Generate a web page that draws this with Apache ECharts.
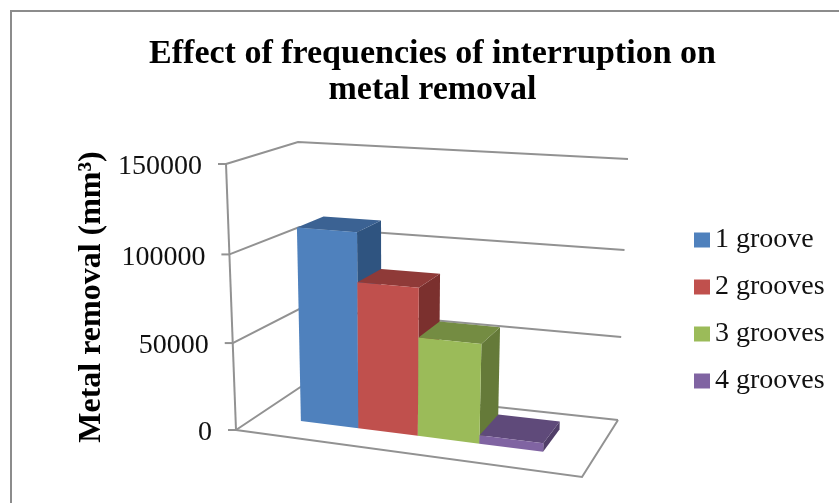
<!DOCTYPE html>
<html>
<head>
<meta charset="utf-8">
<style>
  html, body { margin: 0; padding: 0; background: #fff; }
  #chart { width: 839px; height: 503px; }
</style>
<script src="https://cdn.jsdelivr.net/npm/echarts@6/dist/echarts.min.js"></script>
</head>
<body>
<div id="chart"></div>
<script>
var categories = ['1 groove', '2 grooves', '3 grooves', '4 grooves']
var values = [112300, 84400, 56500, 4800]
var yTicks = [0, 50000, 100000, 150000]
var frontColors = ['#4f81bd', '#c0504d', '#9bbb59', '#8064a2']
var topColors = ['#3b6293', '#8f3a38', '#748c42', '#5f4a7a']
var sideColors = ['#2f5480', '#7b302e', '#657a39', '#503e68']

var serif = '"Liberation Serif", serif'
var lineColor = '#929292'

// corners of the 3d box on screen: x left/right, z front/back, bottom/top
var box = {
  flb: [236, 430], flt: [226, 164],
  blb: [302, 386], blt: [298, 142],
  frb: [582, 477], frt: [596, 190],
  brb: [618, 420], brt: [628, 159]
}
var barX = { center: 0.5, share: 0.7214 }
var barZ = [0.33, 0.735]

function mix(a, b, t) {
  return [a[0] + (b[0] - a[0]) * t, a[1] + (b[1] - a[1]) * t]
}

function warp(t, c) {
  return t / (c + (1 - c) * t)
}

// u, v, z all 0..1
function project(u, v, z) {
  var x = warp(u, 1.1)
  var y = warp(v, 1.03 + 0.04 * z)
  var fb = mix(mix(box.flb, box.frb, x), mix(box.blb, box.brb, x), z)
  var ft = mix(mix(box.flt, box.frt, x), mix(box.blt, box.brt, x), z)
  return mix(fb, ft, y)
}

function face(points, color) {
  return { type: 'polygon', shape: { points: points }, style: { fill: color }}
}

function renderBar(params, api) {
  var sys = params.coordSys
  var i = api.value(0)
  var pos = api.coord([i, api.value(1)])
  var band = api.size([1, 0])[0] / sys.width
  var t = (pos[0] - sys.x) / sys.width
  var mid = barX.center + (t - 0.5) * barX.share
  var half = band * barX.share / 2
  var u0 = mid - half
  var u1 = mid + half
  var v = (sys.y + sys.height - pos[1]) / sys.height
  var z0 = barZ[0]
  var z1 = barZ[1]
  return {
    type: 'group',
    children: [
      face([project(u1, 0, z0), project(u1, 0, z1), project(u1, v, z1), project(u1, v, z0)], sideColors[i]),
      face([project(u0, v, z0), project(u1, v, z0), project(u1, v, z1), project(u0, v, z1)], topColors[i]),
      face([project(u0, 0, z0), project(u1, 0, z0), project(u1, v, z0), project(u0, v, z0)], frontColors[i])
    ]
  }
}

function renderWall(params, api) {
  var sys = params.coordSys
  var tick = api.value(1)
  var py = api.coord([0, tick])[1]
  var v = (sys.y + sys.height - py) / sys.height
  var a = project(0, v, 0)
  var lineStyle = { stroke: lineColor, lineWidth: 2, fill: null }
  var children = [
    { type: 'polyline', shape: { points: [a, project(0, v, 1), project(1, v, 1)] }, style: lineStyle },
    { type: 'line', shape: { x1: a[0] - 8, y1: a[1], x2: a[0], y2: a[1] }, style: lineStyle },
    {
      type: 'text',
      x: a[0] - 24,
      y: a[1] + 3,
      style: {
        text: String(tick),
        align: 'right',
        verticalAlign: 'middle',
        fontFamily: serif,
        fontSize: 28,
        fill: '#111'
      }
    }
  ]
  if (tick === 0) {
    children.push({ type: 'polyline', shape: { points: [a, project(1, 0, 0), project(1, 0, 1)] }, style: lineStyle })
    children.push({ type: 'polyline', shape: { points: [a, project(0, 1, 0)] }, style: lineStyle })
  }
  return { type: 'group', children: children }
}

var series = [{
  type: 'custom',
  name: 'walls',
  renderItem: renderWall,
  data: yTicks.map(function(t) { return [0, t] }),
  encode: { x: 0, y: 1 },
  silent: true,
  z: 1
}].concat(categories.map(function(name, i) {
  return {
    type: 'custom',
    name: name,
    renderItem: renderBar,
    data: [[i, values[i]]],
    encode: { x: 0, y: 1 },
    itemStyle: { color: frontColors[i] },
    silent: true,
    z: 2 + i
  }
}))

var chart = echarts.init(document.getElementById('chart'), null, { renderer: 'canvas' })
chart.setOption({
  animation: false,
  backgroundColor: '#fff',
  title: {
    text: 'Effect of frequencies of interruption on\nmetal removal',
    left: 427.5,
    top: 31,
    textAlign: 'center',
    textStyle: { fontFamily: serif, fontSize: 34, fontWeight: 'bold', lineHeight: 36, color: '#000' }
  },
  legend: {
    data: categories,
    orient: 'vertical',
    left: 694,
    top: 226,
    padding: 0,
    icon: 'rect',
    itemWidth: 16,
    itemHeight: 15,
    itemGap: 19,
    selectedMode: false,
    textStyle: { fontFamily: serif, fontSize: 28, color: '#111', padding: [4, 0, 0, 0] }
  },
  grid: { left: 226, top: 164, width: 392, height: 266 },
  xAxis: { type: 'category', data: categories, show: false },
  yAxis: {
    type: 'value',
    min: 0,
    max: 150000,
    interval: 50000,
    name: 'Metal removal (mm³)',
    nameLocation: 'middle',
    nameGap: 118,
    nameTextStyle: { fontFamily: serif, fontSize: 32, fontWeight: 'bold', color: '#000' },
    axisLine: { show: false },
    axisTick: { show: false },
    axisLabel: { show: false },
    splitLine: { show: false }
  },
  graphic: [{
    type: 'polyline',
    shape: { points: [[11, 503], [11, 11], [839, 11]] },
    style: { stroke: '#8c8c8c', lineWidth: 2, fill: null }
  }],
  series: series
})
</script>
</body>
</html>
